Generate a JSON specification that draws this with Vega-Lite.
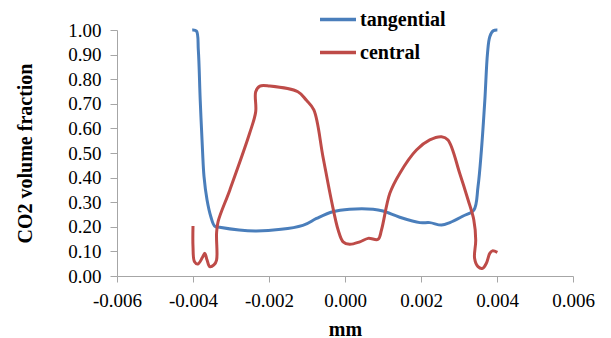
{
  "$schema": "https://vega.github.io/schema/vega-lite/v6.json",
  "width": 456,
  "height": 246,
  "autosize": {"type": "none"},
  "padding": {"left": 117, "top": 30, "right": 38, "bottom": 62},
  "background": "white",
  "config": {
    "view": {"stroke": null},
    "font": "Liberation Serif, Times New Roman, serif",
    "axis": {
      "grid": false,
      "domainColor": "#a6a6a6",
      "tickColor": "#a6a6a6",
      "domainWidth": 1,
      "tickWidth": 1,
      "labelFont": "Liberation Serif, Times New Roman, serif",
      "labelFontSize": 19,
      "labelColor": "#000000",
      "titleFont": "Liberation Serif, Times New Roman, serif",
      "titleFontSize": 20,
      "titleFontWeight": "bold",
      "titleColor": "#000000"
    },
    "legend": {
      "labelFont": "Liberation Serif, Times New Roman, serif"
    }
  },
  "data": {
    "values": [
      {"s": "tangential", "i": 1, "x": -0.00402, "y": 1.0},
      {"s": "tangential", "i": 2, "x": -0.00391, "y": 0.996},
      {"s": "tangential", "i": 3, "x": -0.00386, "y": 0.919},
      {"s": "tangential", "i": 4, "x": -0.00381, "y": 0.715},
      {"s": "tangential", "i": 5, "x": -0.00375, "y": 0.512},
      {"s": "tangential", "i": 6, "x": -0.00371, "y": 0.404},
      {"s": "tangential", "i": 7, "x": -0.00363, "y": 0.309},
      {"s": "tangential", "i": 8, "x": -0.00353, "y": 0.241},
      {"s": "tangential", "i": 9, "x": -0.00343, "y": 0.203},
      {"s": "tangential", "i": 10, "x": -0.0033, "y": 0.198},
      {"s": "tangential", "i": 11, "x": -0.00233, "y": 0.183},
      {"s": "tangential", "i": 12, "x": -0.00111, "y": 0.206},
      {"s": "tangential", "i": 13, "x": -0.00075, "y": 0.234},
      {"s": "tangential", "i": 14, "x": -0.00032, "y": 0.261},
      {"s": "tangential", "i": 15, "x": 0.00012, "y": 0.271},
      {"s": "tangential", "i": 16, "x": 0.00074, "y": 0.271},
      {"s": "tangential", "i": 17, "x": 0.001, "y": 0.264},
      {"s": "tangential", "i": 18, "x": 0.00144, "y": 0.239},
      {"s": "tangential", "i": 19, "x": 0.00197, "y": 0.217},
      {"s": "tangential", "i": 20, "x": 0.00223, "y": 0.217},
      {"s": "tangential", "i": 21, "x": 0.00254, "y": 0.207},
      {"s": "tangential", "i": 22, "x": 0.00276, "y": 0.217},
      {"s": "tangential", "i": 23, "x": 0.00311, "y": 0.244},
      {"s": "tangential", "i": 24, "x": 0.00339, "y": 0.268},
      {"s": "tangential", "i": 25, "x": 0.0035, "y": 0.363},
      {"s": "tangential", "i": 26, "x": 0.00359, "y": 0.512},
      {"s": "tangential", "i": 27, "x": 0.00368, "y": 0.715},
      {"s": "tangential", "i": 28, "x": 0.00375, "y": 0.905},
      {"s": "tangential", "i": 29, "x": 0.00381, "y": 0.973},
      {"s": "tangential", "i": 30, "x": 0.0039, "y": 0.997},
      {"s": "tangential", "i": 31, "x": 0.00401, "y": 1.0},
      {"s": "central", "i": 1, "x": -0.0040, "y": 0.203},
      {"s": "central", "i": 2, "x": -0.0040, "y": 0.119},
      {"s": "central", "i": 3, "x": -0.00396, "y": 0.058},
      {"s": "central", "i": 4, "x": -0.00387, "y": 0.049},
      {"s": "central", "i": 5, "x": -0.00375, "y": 0.076},
      {"s": "central", "i": 6, "x": -0.00369, "y": 0.092},
      {"s": "central", "i": 7, "x": -0.00363, "y": 0.065},
      {"s": "central", "i": 8, "x": -0.00356, "y": 0.038},
      {"s": "central", "i": 9, "x": -0.00345, "y": 0.045},
      {"s": "central", "i": 10, "x": -0.00338, "y": 0.065},
      {"s": "central", "i": 11, "x": -0.00338, "y": 0.173},
      {"s": "central", "i": 12, "x": -0.00334, "y": 0.221},
      {"s": "central", "i": 13, "x": -0.00303, "y": 0.35},
      {"s": "central", "i": 14, "x": -0.00251, "y": 0.58},
      {"s": "central", "i": 15, "x": -0.00235, "y": 0.668},
      {"s": "central", "i": 16, "x": -0.00235, "y": 0.749},
      {"s": "central", "i": 17, "x": -0.00224, "y": 0.772},
      {"s": "central", "i": 18, "x": -0.00198, "y": 0.772},
      {"s": "central", "i": 19, "x": -0.00124, "y": 0.749},
      {"s": "central", "i": 20, "x": -0.00102, "y": 0.715},
      {"s": "central", "i": 21, "x": -0.00082, "y": 0.675},
      {"s": "central", "i": 22, "x": -0.00058, "y": 0.485},
      {"s": "central", "i": 23, "x": -0.00036, "y": 0.309},
      {"s": "central", "i": 24, "x": -0.00018, "y": 0.187},
      {"s": "central", "i": 25, "x": -0.00005, "y": 0.139},
      {"s": "central", "i": 26, "x": 0.00012, "y": 0.129},
      {"s": "central", "i": 27, "x": 0.00039, "y": 0.139},
      {"s": "central", "i": 28, "x": 0.00061, "y": 0.153},
      {"s": "central", "i": 29, "x": 0.00087, "y": 0.149},
      {"s": "central", "i": 30, "x": 0.00096, "y": 0.187},
      {"s": "central", "i": 31, "x": 0.00118, "y": 0.336},
      {"s": "central", "i": 32, "x": 0.00144, "y": 0.417},
      {"s": "central", "i": 33, "x": 0.00188, "y": 0.512},
      {"s": "central", "i": 34, "x": 0.00223, "y": 0.553},
      {"s": "central", "i": 35, "x": 0.00254, "y": 0.566},
      {"s": "central", "i": 36, "x": 0.00271, "y": 0.553},
      {"s": "central", "i": 37, "x": 0.00302, "y": 0.417},
      {"s": "central", "i": 38, "x": 0.00324, "y": 0.309},
      {"s": "central", "i": 39, "x": 0.00339, "y": 0.228},
      {"s": "central", "i": 40, "x": 0.00344, "y": 0.146},
      {"s": "central", "i": 41, "x": 0.00341, "y": 0.072},
      {"s": "central", "i": 42, "x": 0.0035, "y": 0.038},
      {"s": "central", "i": 43, "x": 0.00362, "y": 0.031},
      {"s": "central", "i": 44, "x": 0.00372, "y": 0.052},
      {"s": "central", "i": 45, "x": 0.00381, "y": 0.092},
      {"s": "central", "i": 46, "x": 0.00388, "y": 0.102},
      {"s": "central", "i": 47, "x": 0.00401, "y": 0.096}
    ]
  },
  "encoding": {
    "x": {
      "field": "x", "type": "quantitative",
      "scale": {"domain": [-0.006, 0.006], "nice": false, "zero": false},
      "axis": {
        "values": [-0.006, -0.004, -0.002, 0, 0.002, 0.004, 0.006],
        "labelExpr": "replace(format(datum.value, '.3f'), '\u2212', '-')",
        "tickSize": 6, "labelPadding": 9, "labelFlush": false,
        "title": "mm", "titleX": 228, "titleY": 59, "titleBaseline": "alphabetic", "titleAnchor": null
      }
    },
    "y": {
      "field": "y", "type": "quantitative",
      "scale": {"domain": [0, 1], "nice": false},
      "axis": {
        "values": [0, 0.1, 0.2, 0.3, 0.4, 0.5, 0.6, 0.7, 0.8, 0.9, 1.0],
        "format": ".2f",
        "tickSize": 7, "labelPadding": 9, "labelFlush": false,
        "title": "CO2 volume fraction", "titleX": -86, "titleY": 123, "titleAngle": 270,
        "titleBaseline": "alphabetic", "titleAlign": "center"
      }
    },
    "order": {"field": "i", "type": "quantitative"},
    "color": {
      "field": "s", "type": "nominal",
      "scale": {"domain": ["tangential", "central"], "range": ["#4a7ebb", "#be4b48"]},
      "legend": {
        "title": null, "orient": "none", "legendX": 201, "legendY": -27,
        "symbolType": "stroke", "symbolSize": 1296, "symbolStrokeWidth": 3.5,
        "labelFont": "Liberation Serif, Times New Roman, serif", "labelFontSize": 20, "labelFontWeight": "bold",
        "labelColor": "#000000", "labelOffset": 2, "clipHeight": 33, "rowPadding": 0, "padding": 0
      }
    }
  },
  "layer": [
    {"transform": [{"filter": "datum.s === 'tangential'"}], "mark": {"type": "line", "strokeWidth": 3, "interpolate": "catmull-rom"}},
    {"transform": [{"filter": "datum.s === 'central'"}], "mark": {"type": "line", "strokeWidth": 3, "interpolate": "catmull-rom"}}
  ]
}
